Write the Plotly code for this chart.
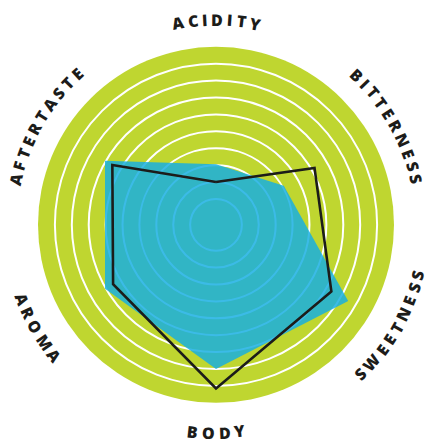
import math
import plotly.graph_objects as go

# ---- data ----
categories = ["ACIDITY", "BITTERNESS", "SWEETNESS", "BODY", "AROMA", "AFTERTASTE"]
profile_fill = [3.05, 4.1, 8.5, 8.0, 7.05, 7.05]      # cyan area
profile_line = [2.0, 6.2, 7.35, 9.15, 6.5, 6.55]       # black outline
ring_values = [1, 2, 3, 4, 5, 6, 7, 8, 9]

W, H = 425, 439
CX, CY, RD = 216.0, 224.8, 178.0   # disc centre / radius in px

GREEN = "#bfd630"
CYAN = "rgba(22,174,226,0.84)"
INK = "#1c1c1a"

fig = go.Figure()
fig.add_trace(go.Scatterpolar(
    r=profile_fill + profile_fill[:1], theta=categories + categories[:1],
    mode="lines", fill="toself", fillcolor=CYAN,
    line=dict(width=0, color="rgba(0,0,0,0)"), hoverinfo="skip", showlegend=False))
fig.add_trace(go.Scatterpolar(
    r=profile_line + profile_line[:1], theta=categories + categories[:1],
    mode="lines", line=dict(color=INK, width=2.6), showlegend=False))

fig.update_layout(
    width=W, height=H, margin=dict(l=0, r=0, t=0, b=0),
    paper_bgcolor="white", plot_bgcolor="white",
    polar=dict(
        domain=dict(x=[(CX - RD) / W, (CX + RD) / W],
                    y=[(H - CY - RD) / H, (H - CY + RD) / H]),
        bgcolor=GREEN,
        radialaxis=dict(range=[-0.53, 10], tickvals=ring_values, showticklabels=False,
                        ticks="", showline=False, gridcolor="white", gridwidth=2.2),
        angularaxis=dict(type="category", categoryarray=categories, rotation=90,
                         direction="clockwise", showgrid=False, showline=False,
                         showticklabels=False, ticks=""),
    ),
)

# ---- curved labels, one annotation per letter ----
EM = {"A": .69, "B": .66, "C": .63, "D": .72, "E": .55, "F": .52, "I": .33,
      "M": .90, "N": .78, "O": .77, "R": .64, "S": .55, "T": .56, "W": .95, "Y": .59}
FS = 16
TRACK = 4.4
for i, lab in enumerate(categories):
    theta = 90 - 60 * i
    if theta < -180:
        theta += 360
    top = math.sin(math.radians(theta)) > 0
    R = 205.0 if top else 208.0
    widths = [EM.get(ch, .6) * FS for ch in lab]
    L = sum(widths) + TRACK * (len(lab) - 1)
    s = -L / 2
    for ch, w in zip(lab, widths):
        sc = s + w / 2
        dphi = math.degrees(sc / R)
        phi = theta - dphi if top else theta + dphi
        rot = phi - 90 if top else phi + 90
        px = CX + R * math.cos(math.radians(phi))
        py = CY - R * math.sin(math.radians(phi))
        fig.add_annotation(x=px / W, y=1 - py / H, xref="paper", yref="paper",
                           text=ch, showarrow=False, textangle=-rot, borderpad=0,
                           xanchor="center", yanchor="middle",
                           font=dict(family="Open Sans", size=FS, color=INK, weight=800))
        s += w + TRACK

fig.write_html("out.html", config={"displayModeBar": False},
               post_script="document.body.style.margin='0';document.body.style.overflow='hidden';")
